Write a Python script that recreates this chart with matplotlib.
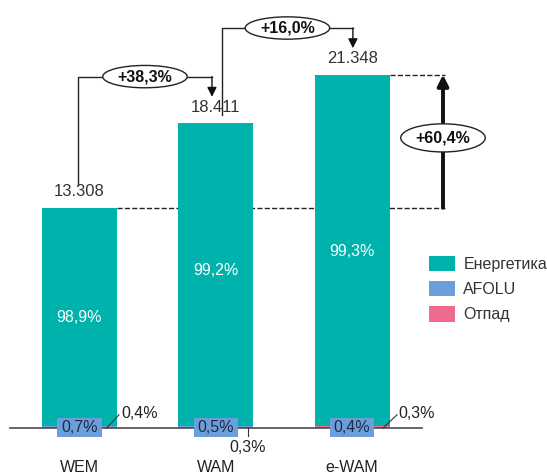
import numpy as np
import matplotlib.pyplot as plt
from matplotlib.patches import Ellipse, Patch, Rectangle

plt.rcParams['font.family'] = ['Liberation Sans', 'DejaVu Sans']

scenarios = ['WEM', 'WAM', 'e-WAM']
totals = np.array([13.308, 18.411, 21.348])
total_labels = ['13.308', '18.411', '21.348']
energy_pct = np.array([98.9, 99.2, 99.3])
afolu_pct = np.array([0.7, 0.5, 0.4])
waste_pct = np.array([0.4, 0.3, 0.3])
energy_lbl = ['98,9%', '99,2%', '99,3%']
afolu_lbl = ['0,7%', '0,5%', '0,4%']
waste_lbl = ['0,4%', '0,3%', '0,3%']
growth_lbl = ['+38,3%', '+16,0%']
total_growth_lbl = '+60,4%'

c_energy = '#00B2AC'
c_afolu = '#6C9FD9'
c_waste = '#EF6A8D'

fig = plt.figure(figsize=(5.47, 4.75), dpi=100)
ax = fig.add_axes([0, 0, 1, 1])
ax.set_xlim(-0.583, 3.43)
ax.set_ylim(-2.84, 25.86)
ax.axis('off')

x = np.arange(len(scenarios))
w = 0.55
afolu = totals * afolu_pct / 100
waste = totals * waste_pct / 100
energy = totals - afolu - waste

ax.bar(x, afolu, w, color=c_afolu, zorder=2)
ax.bar(x, waste, w, bottom=afolu, color=c_waste, zorder=2)
ax.bar(x, energy, w, bottom=afolu + waste, color=c_energy, zorder=2)

# baseline
ax.plot([-0.507, 2.51], [0, 0], color='#4a4a4a', lw=1.2, zorder=2.5)

for i in range(3):
    ax.text(x[i], totals[i] + 0.5, total_labels[i], ha='center', va='bottom',
            fontsize=12, color='#333333')
    ax.text(x[i], totals[i] / 2 + (0.3 if i == 1 else 0), energy_lbl[i], ha='center',
            va='center', fontsize=11.5, color='white', zorder=3)
    ax.add_patch(Rectangle((x[i] - 0.162, -0.55), 0.324, 1.15, fc=c_afolu, ec='none',
                           zorder=3))
    ax.text(x[i], 0.03, afolu_lbl[i], ha='center', va='center', fontsize=11.5,
            color='#1f2a44', zorder=4)
    ax.text(x[i], -2.36, scenarios[i], ha='center', va='center', fontsize=11.5,
            color='#222222')

# waste labels with leader lines
ax.plot([0.2, 0.29], [0, 0.8], color='#333333', lw=0.8, zorder=4)
ax.text(0.305, 0.9, waste_lbl[0], ha='left', va='center', fontsize=11.5, color='#222222')
ax.plot([1.233, 1.233], [0, -0.5], color='#333333', lw=0.8, zorder=4)
ax.text(1.236, -1.2, waste_lbl[1], ha='center', va='center', fontsize=11.5, color='#222222')
ax.plot([2.227, 2.33], [0, 0.8], color='#333333', lw=0.8, zorder=4)
ax.text(2.34, 0.9, waste_lbl[2], ha='left', va='center', fontsize=11.5, color='#222222')


def oval(cx, cy, txt, h):
    ax.add_patch(Ellipse((cx, cy), 0.62, h, fc='white', ec='#222222', lw=1.0, zorder=5))
    ax.text(cx, cy, txt, ha='center', va='center', fontsize=11.5, fontweight='bold',
            color='#111111', zorder=6)


# bracket arrows between scenarios
starts = [(-0.011, totals[0] + 1.38), (1.045, totals[1] + 0.5)]
ends_x = [0.972, 2.006]
for i in range(2):
    sx, sy = starts[i]
    top = totals[i + 1] + 2.82
    ax.plot([sx, sx, ends_x[i]], [sy, top, top], color='#222222', lw=1.0)
    ax.annotate('', xy=(ends_x[i], totals[i + 1] + 1.6), xytext=(ends_x[i], top),
                arrowprops=dict(arrowstyle='-|>', color='#111111', lw=1.0,
                                mutation_scale=14, shrinkA=0, shrinkB=0))
    oval((sx + ends_x[i]) / 2, top, growth_lbl[i], 1.35)

# total change arrow (dashed guides run behind the bars)
ax.plot([x[0] + w / 2, 2.68], [totals[0], totals[0]], ls='--', color='#222222', lw=1.0,
        zorder=1)
ax.plot([x[2] + w / 2, 2.68], [totals[2], totals[2]], ls='--', color='#222222', lw=1.0,
        zorder=1)
ax.annotate('', xy=(2.667, totals[2]), xytext=(2.667, totals[0]),
            arrowprops=dict(arrowstyle='-|>', color='#111111', lw=2.8,
                            mutation_scale=16, shrinkA=0, shrinkB=0))
oval(2.667, (totals[0] + totals[2]) / 2 + 0.2, total_growth_lbl, 1.7)

handles = [Patch(fc=c_energy, label='Енергетика'),
           Patch(fc=c_afolu, label='AFOLU'),
           Patch(fc=c_waste, label='Отпад')]
fig.legend(handles=handles, loc='upper left', bbox_to_anchor=(0.758, 0.492),
           frameon=False, fontsize=11.5, handlelength=1.6, handleheight=1.1,
           labelspacing=0.58, handletextpad=0.55, labelcolor='#333333')

fig.savefig('out.png', dpi=100)
